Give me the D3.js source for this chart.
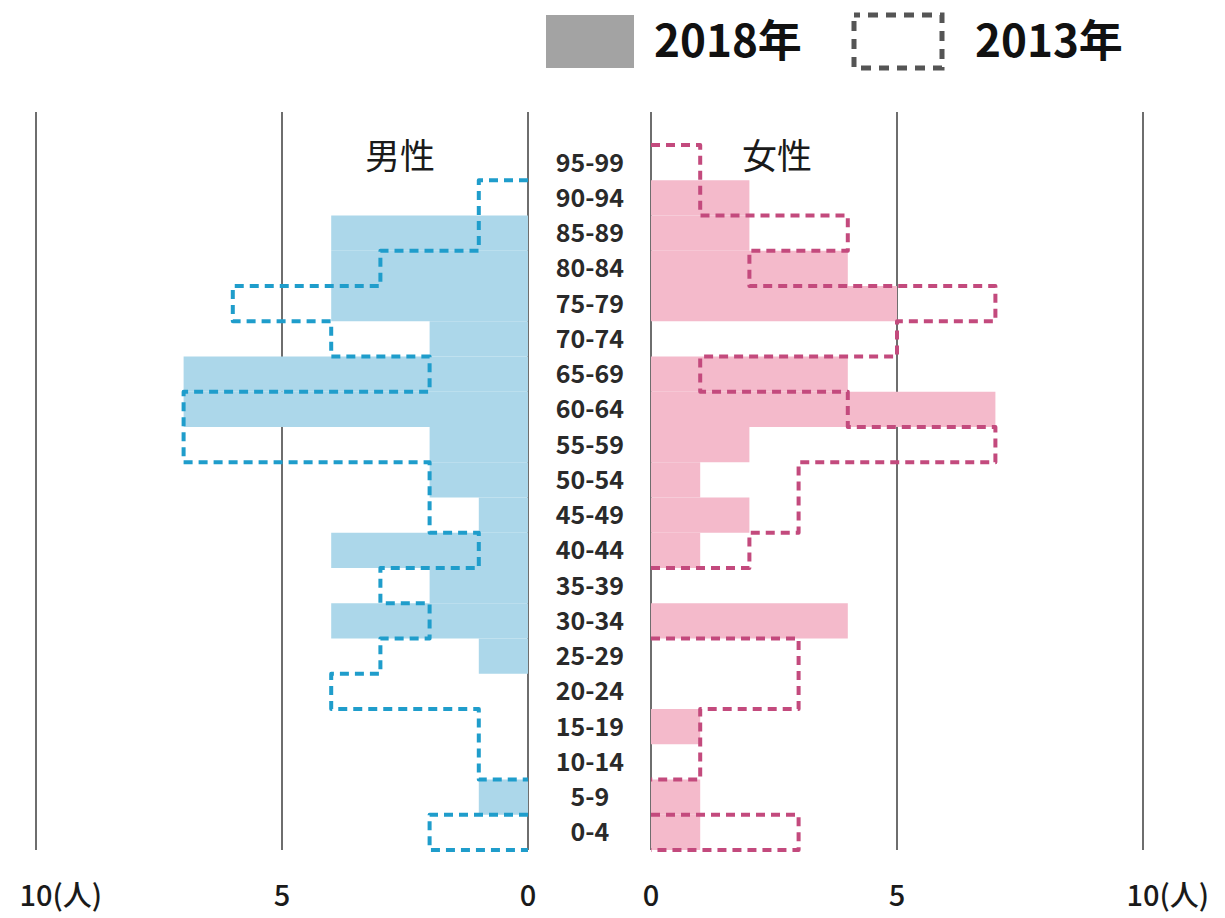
<!DOCTYPE html>
<html>
<head>
<meta charset="utf-8">
<script src="https://cdn.jsdelivr.net/npm/d3@7"></script>
<style>
  html, body { margin: 0; padding: 0; background: #fff; }
  svg { display: block; font-family: "Noto Sans CJK JP", "Noto Sans", sans-serif; }
</style>
</head>
<body>
<svg id="chart" width="1225" height="918"></svg>
<script>
// ---- data (index 0 = 0-4 ... index 19 = 95-99) ----
const ageGroups = ["0-4","5-9","10-14","15-19","20-24","25-29","30-34","35-39","40-44","45-49",
                   "50-54","55-59","60-64","65-69","70-74","75-79","80-84","85-89","90-94","95-99"];
const male2018   = [0,1,0,0,0,1,4,2,4,1,2,2,7,7,2,4,4,4,0,0];
const male2013   = [2,0,1,1,4,3,2,3,1,2,2,7,7,2,4,6,3,1,1,0];
const female2018 = [1,1,0,1,0,0,4,0,1,2,1,2,7,4,0,5,4,2,2,0];
const female2013 = [3,0,1,1,3,3,0,0,2,3,3,7,4,1,5,7,2,4,1,1];
const tickValues = [0,5,10];
const tickSuffix = "(人)";
const sideLabels = ["男性","女性"];
const legendLabels = ["2018年","2013年"];

// ---- styles ----
const C = {
  grid: "#6e6e6e",
  maleFill: "#acd7ea", maleLine: "#1f9dcb",
  femaleFill: "#f4bacb", femaleLine: "#c34a7d",
  legendFill: "#a3a3a3", legendLine: "#555555",
  text: "#1a1a1a"
};

const svg = d3.select("#chart");

const xL = d3.scaleLinear().domain([0,10]).range([528, 36]);
const xR = d3.scaleLinear().domain([0,10]).range([651, 1143]);
const y = d3.scaleBand().domain(ageGroups.slice().reverse()).range([145, 850]).padding(0);

// grid lines
const gridTop = 112, gridBottom = 850;
[xL, xR].forEach(sc => {
  svg.append("g").selectAll("line").data(tickValues).join("line")
    .attr("x1", d => sc(d)).attr("x2", d => sc(d))
    .attr("y1", gridTop).attr("y2", gridBottom)
    .attr("stroke", C.grid).attr("stroke-width", 2);
});

// 2018 bars
function bars(sc, vals, fill) {
  svg.append("g").selectAll("rect").data(ageGroups.map((a,i)=>({a, v: vals[i]}))).join("rect")
    .attr("x", d => Math.min(sc(0), sc(d.v)))
    .attr("width", d => Math.abs(sc(d.v) - sc(0)))
    .attr("y", d => y(d.a))
    .attr("height", y.bandwidth())
    .attr("fill", fill);
}
bars(xL, male2018, C.maleFill);
bars(xR, female2018, C.femaleFill);

// 2013 step outline
function outline(sc, vals, color) {
  const order = ageGroups.map((a,i)=>({a, v: vals[i]})).reverse(); // top to bottom
  let p = d3.path();
  p.moveTo(sc(0), y(order[0].a));
  order.forEach(d => {
    const t = y(d.a), b = t + y.bandwidth();
    p.lineTo(sc(d.v), t);
    if (d.v === 0) p.moveTo(sc(0), b); else p.lineTo(sc(d.v), b);
  });
  p.lineTo(sc(0), y(order[order.length-1].a) + y.bandwidth());
  svg.append("path").attr("d", p.toString())
    .attr("fill", "none").attr("stroke", color).attr("stroke-width", 4)
    .attr("stroke-dasharray", "9,6").attr("stroke-linejoin", "round");
}
outline(xL, male2013, C.maleLine);
outline(xR, female2013, C.femaleLine);

// age labels
svg.append("g").selectAll("text").data(ageGroups).join("text")
  .attr("x", 590).attr("y", d => y(d) + y.bandwidth()/2 + 9)
  .attr("text-anchor", "middle").attr("font-size", 25).attr("font-weight", "bold")
  .attr("fill", "#2a2a2a").text(d => d);

// side labels
svg.append("text").attr("x", xL(2.6)).attr("y", 169).attr("text-anchor","middle")
  .attr("font-size", 35).attr("fill", C.text).text(sideLabels[0]);
svg.append("text").attr("x", xR(2.56)).attr("y", 169).attr("text-anchor","middle")
  .attr("font-size", 35).attr("fill", C.text).text(sideLabels[1]);

// bottom tick labels
[xL, xR].forEach(sc => {
  tickValues.forEach(v => {
    const t = svg.append("text").attr("x", sc(v)).attr("y", 906)
      .attr("text-anchor","middle").attr("font-size", 29).attr("font-weight", 500)
      .attr("fill", C.text).text(v);
    if (v === 10) {
      const w = t.node().getComputedTextLength();
      svg.append("text").attr("x", sc(v) + w/2).attr("y", 906)
        .attr("font-size", 29).attr("font-weight", 500).attr("fill", C.text).text(tickSuffix);
    }
  });
});

// legend
svg.append("rect").attr("x", 546).attr("y", 15).attr("width", 88).attr("height", 53).attr("fill", C.legendFill);
svg.append("text").attr("x", 654).attr("y", 57).attr("font-size", 44).attr("font-weight","bold")
  .attr("fill", "#111").text(legendLabels[0]);
svg.append("rect").attr("x", 854).attr("y", 15).attr("width", 88).attr("height", 53)
  .attr("fill", "none").attr("stroke", C.legendLine).attr("stroke-width", 5)
  .attr("stroke-dasharray", "10,8").attr("stroke-dashoffset", 4);
svg.append("text").attr("x", 975).attr("y", 57).attr("font-size", 44).attr("font-weight","bold")
  .attr("fill", "#111").text(legendLabels[1]);
</script>
</body>
</html>
